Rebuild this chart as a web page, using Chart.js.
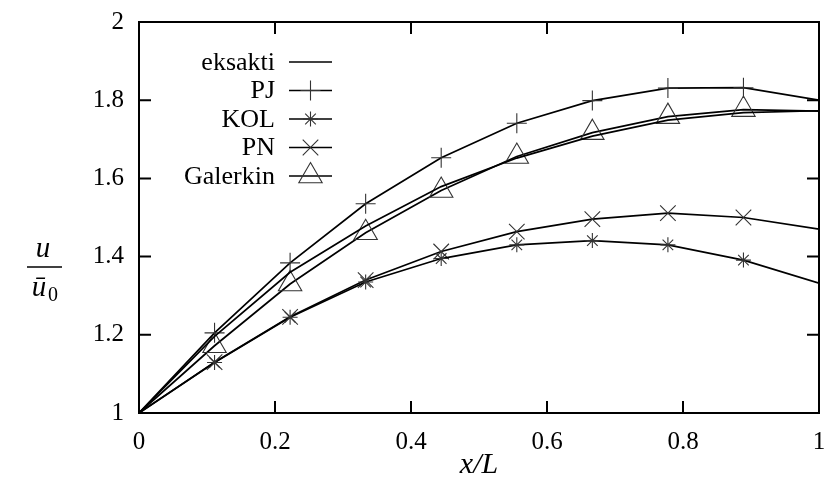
<!DOCTYPE html>
<html><head><meta charset="utf-8">
<script src="https://cdn.jsdelivr.net/npm/chart.js@4/dist/chart.umd.min.js"></script>
<style>html,body{margin:0;padding:0;background:#fff}canvas{display:block}</style>
</head><body>
<canvas id="c" width="824" height="484"></canvas>
<script>
// ---- data ----
const xValues  = [0, 0.1111, 0.2222, 0.3333, 0.4444, 0.5556, 0.6667, 0.7778, 0.8889, 1];
const eksakti  = [1, 1.196, 1.360, 1.478, 1.579, 1.652, 1.708, 1.749, 1.768, 1.773];
const pj       = [1, 1.205, 1.384, 1.535, 1.653, 1.741, 1.799, 1.831, 1.832, 1.800];
const kol      = [1, 1.129, 1.245, 1.335, 1.395, 1.430, 1.441, 1.430, 1.391, 1.332];
const pn       = [1, 1.130, 1.246, 1.340, 1.413, 1.464, 1.496, 1.511, 1.500, 1.470];
const galerkin = [1, 1.172, 1.330, 1.461, 1.569, 1.656, 1.717, 1.758, 1.776, 1.772];
const seriesNames = ['eksakti', 'PJ', 'KOL', 'PN', 'Galerkin'];
const xTicks = [0, 0.2, 0.4, 0.6, 0.8, 1];
const yTicks = [1, 1.2, 1.4, 1.6, 1.8, 2];
const xTitle = 'x/L';

const SERIF = '"Liberation Serif", "DejaVu Serif", serif';
const styles = [
  {pointStyle: false, r: 0},
  {pointStyle: 'cross', r: 10},
  {pointStyle: 'star', r: 7.5},
  {pointStyle: 'crossRot', r: 11},
  {pointStyle: 'triangle', r: 13.5}
];
const seriesValues = [eksakti, pj, kol, pn, galerkin];
const last = xValues.length - 1;

const datasets = seriesValues.map((vals, k) => ({
  label: seriesNames[k],
  data: xValues.map((x, i) => ({x: x, y: vals[i]})),
  borderColor: '#000',
  borderWidth: 1.7,
  fill: false,
  tension: 0,
  pointStyle: styles[k].pointStyle || 'circle',
  pointRadius: (ctx) => (styles[k].r === 0 || ctx.dataIndex === 0 || ctx.dataIndex === last) ? 0 : styles[k].r,
  pointHoverRadius: 0,
  pointBorderColor: '#333',
  pointBorderWidth: 1.1,
  pointBackgroundColor: 'rgba(0,0,0,0)'
}));

function drawMarker(ctx, style, r, x, y) {
  if (!style) return;
  if (Chart.helpers && Chart.helpers.drawPoint) {
    Chart.helpers.drawPoint(ctx, {pointStyle: style, radius: r, rotation: 0, borderWidth: 1.1}, x, y);
  }
}

const framePlugin = {
  id: 'frame',
  afterDraw(chart) {
    const ctx = chart.ctx, a = chart.chartArea;
    const xs = chart.scales.x, ys = chart.scales.y;
    ctx.save();
    ctx.strokeStyle = '#000';
    ctx.lineWidth = 2;
    ctx.strokeRect(a.left, a.top, a.right - a.left, a.bottom - a.top);
    const tl = 12;
    ctx.beginPath();
    xTicks.forEach(v => {
      const p = xs.getPixelForValue(v);
      ctx.moveTo(p, a.bottom); ctx.lineTo(p, a.bottom - tl);
      ctx.moveTo(p, a.top); ctx.lineTo(p, a.top + tl);
    });
    yTicks.forEach(v => {
      const p = ys.getPixelForValue(v);
      ctx.moveTo(a.left, p); ctx.lineTo(a.left + tl, p);
      ctx.moveTo(a.right, p); ctx.lineTo(a.right - tl, p);
    });
    ctx.stroke();

    // legend (inside plot, top-left)
    const rowY = [62, 90.5, 119, 147.5, 176];
    const textRight = 275, l0 = 289, l1 = 332, mx = 310.5;
    ctx.font = '26px ' + SERIF;
    ctx.textAlign = 'right';
    ctx.textBaseline = 'middle';
    seriesNames.forEach((n, k) => {
      const y = rowY[k];
      ctx.fillStyle = '#000';
      ctx.fillText(n, textRight, y + 1);
      ctx.strokeStyle = '#000';
      ctx.lineWidth = 1.7;
      ctx.beginPath(); ctx.moveTo(l0, y); ctx.lineTo(l1, y); ctx.stroke();
      ctx.strokeStyle = '#333';
      ctx.fillStyle = 'rgba(0,0,0,0)';
      ctx.lineWidth = 1.1;
      drawMarker(ctx, styles[k].pointStyle, styles[k].r, mx, y);
    });

    // axis titles
    ctx.fillStyle = '#000';
    ctx.textAlign = 'center';
    ctx.textBaseline = 'middle';
    ctx.font = 'italic 30px ' + SERIF;
    ctx.fillText(xTitle, (a.left + a.right) / 2, 465);

    ctx.font = 'italic 29px ' + SERIF;
    ctx.fillText('u', 43, 249);
    ctx.strokeStyle = '#000';
    ctx.lineWidth = 1.3;
    ctx.beginPath(); ctx.moveTo(27, 267); ctx.lineTo(62, 267); ctx.stroke();
    ctx.fillText('\u016B', 39, 288);
    ctx.font = '20px ' + SERIF;
    ctx.fillText('0', 53, 296);
    ctx.restore();
  }
};

new Chart(document.getElementById('c'), {
  type: 'line',
  data: {datasets: datasets},
  options: {
    responsive: false,
    animation: false,
    devicePixelRatio: 1,
    layout: {padding: {left: 0, right: 5, top: 22, bottom: 0}},
    plugins: {legend: {display: false}, tooltip: {enabled: false}},
    events: [],
    scales: {
      x: {
        type: 'linear', min: 0, max: 1,
        afterBuildTicks: s => { s.ticks = xTicks.map(v => ({value: v})); },
        afterFit: s => { s.height = 71; s.paddingLeft = 0; s.paddingRight = 0; },
        grid: {display: false, drawTicks: false},
        border: {display: false},
        ticks: {color: '#000', padding: 14, maxRotation: 0, autoSkip: false,
                font: {family: SERIF, size: 25}, callback: v => String(v)}
      },
      y: {
        type: 'linear', min: 1, max: 2,
        afterBuildTicks: s => { s.ticks = yTicks.map(v => ({value: v})); },
        afterFit: s => { s.width = 139; s.paddingTop = 0; s.paddingBottom = 0; },
        grid: {display: false, drawTicks: false},
        border: {display: false},
        ticks: {color: '#000', padding: 15, autoSkip: false,
                font: {family: SERIF, size: 25}, callback: v => String(v)}
      }
    }
  },
  plugins: [framePlugin]
});
</script>
</body></html>
